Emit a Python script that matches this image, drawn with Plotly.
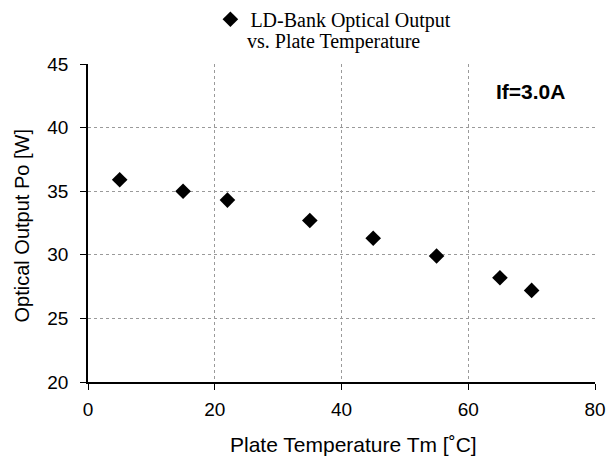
import plotly.graph_objects as go

temperature = [5, 15, 22, 35, 45, 55, 65, 70]
optical_output = [35.9, 35.0, 34.3, 32.7, 31.3, 29.9, 28.2, 27.2]
x_ticks = [0, 20, 40, 60, 80]
y_ticks = [20, 25, 30, 35, 40, 45]

fig = go.Figure()
fig.add_trace(go.Scatter(
    x=temperature, y=optical_output, mode="markers",
    name="LD-Bank Optical Output",
    marker=dict(symbol="diamond", size=12, color="black"),
))

grid = dict(showgrid=True, gridcolor="#9a9a9a", gridwidth=1, griddash="dot",
            showline=True, linecolor="black", linewidth=1.5,
            ticks="outside", ticklen=6, tickcolor="black",
            tickfont=dict(family="Liberation Sans, Arial", size=19, color="black"),
            zeroline=False)

fig.update_xaxes(range=[0, 80], tickvals=x_ticks, ticklabelstandoff=3, **grid)
fig.update_yaxes(range=[20, 45], tickvals=y_ticks, ticklabelstandoff=8, **grid)

title_font = dict(family="Liberation Sans, Arial", size=21, color="black")
fig.add_annotation(x=0.523, y=-0.198, xref="paper", yref="paper",
                   text="Plate Temperature Tm [˚C]", showarrow=False,
                   xanchor="center", yanchor="middle", font=title_font)
fig.add_annotation(x=-0.131, y=0.491, xref="paper", yref="paper",
                   text="Optical Output Po [W]", showarrow=False, textangle=-90,
                   xanchor="center", yanchor="middle",
                   font=dict(family="Liberation Sans, Arial", size=20, color="black"))

fig.add_annotation(x=0.485, y=1.072, xref="paper", yref="paper",
                   text="vs. Plate Temperature", showarrow=False,
                   xanchor="center", yanchor="middle",
                   font=dict(family="Liberation Serif, Times New Roman", size=20, color="black"))
fig.add_annotation(x=0.872, y=0.912, xref="paper", yref="paper",
                   text="<b>If=3.0A</b>", showarrow=False,
                   xanchor="center", yanchor="middle",
                   font=dict(family="Liberation Sans, Arial", size=21, color="black"))

fig.update_layout(
    width=607, height=449,
    margin=dict(l=80, r=20, t=56, b=75, autoexpand=False),
    paper_bgcolor="white", plot_bgcolor="white",
    showlegend=True,
    legend=dict(x=0.484, y=0.975, xref="paper", yref="container",
                xanchor="center", yanchor="middle",
                bgcolor="rgba(0,0,0,0)",
                font=dict(family="Liberation Serif, Times New Roman", size=20, color="black"),
                itemwidth=30),
)

fig.write_html("out.html")
